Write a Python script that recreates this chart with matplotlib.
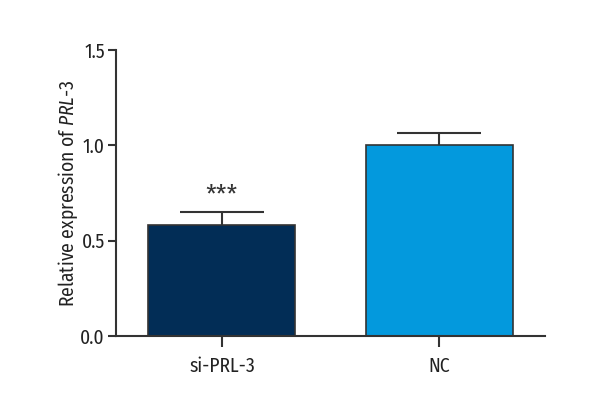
import matplotlib
matplotlib.use("Agg")
import matplotlib.pyplot as plt
from matplotlib import font_manager

names = {f.name for f in font_manager.fontManager.ttflist}
fam = "Fira Sans Condensed" if "Fira Sans Condensed" in names else "DejaVu Sans"
plt.rcParams['font.family'] = [fam, 'DejaVu Sans']
plt.rcParams['mathtext.fontset'] = 'custom'
plt.rcParams['mathtext.it'] = fam + ':italic'
plt.rcParams['mathtext.rm'] = fam

categories = ["si-PRL-3", "NC"]
values = [0.58, 1.0]
errors = [0.07, 0.065]
colors = ["#022d56", "#0399dd"]
significance = ["***", ""]
yticks = [0.0, 0.5, 1.0, 1.5]

fig = plt.figure(figsize=(6, 4.2), dpi=100)
ax = fig.add_axes([0.1933, 0.2, 0.715, 0.681])

x = list(range(len(categories)))
edge = "#333333"
ax.bar(x, values, width=0.677, color=colors, edgecolor=edge, linewidth=1.2, zorder=2)
for xi, v, e in zip(x, values, errors):
    ax.vlines(xi, v, v + e, color=edge, linewidth=1.5, zorder=1)
    ax.hlines(v + e, xi - 0.195, xi + 0.195, color=edge, linewidth=1.5, zorder=1)
for xi, v, e, s in zip(x, values, errors, significance):
    if s:
        ax.text(xi, v + e + 0.025, s, ha='center', va='bottom', fontsize=19, color="#333333")

ax.set_xlim(-0.488, 1.488)
ax.set_ylim(0, 1.5)
ax.set_yticks(yticks)
ax.set_yticklabels([f"{t:.1f}" for t in yticks])
ax.set_xticks(x)
ax.set_xticklabels(categories)
for s in ['top', 'right']:
    ax.spines[s].set_visible(False)
for s in ['left', 'bottom']:
    ax.spines[s].set_color(edge)
    ax.spines[s].set_linewidth(1.5)
ax.tick_params(axis='y', length=6, width=1.5, color=edge, labelsize=14, labelcolor="#222222", pad=2)
ax.tick_params(axis='x', length=8, width=1.5, color=edge, labelsize=14, labelcolor="#222222", pad=7)
ax.set_ylabel(r"Relative expression of $\mathit{PRL}$-$\mathit{3}$", fontsize=14, color="#222222", labelpad=0)

fig.savefig("out.png", dpi=100, facecolor="white")
